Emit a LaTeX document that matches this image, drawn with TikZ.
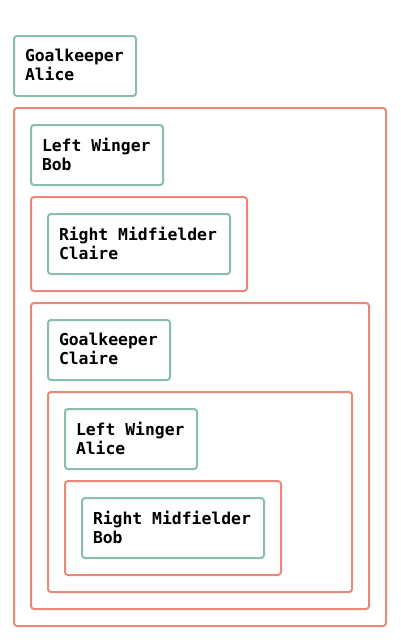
\documentclass[tikz,border=0pt]{standalone}
\usepackage{fontspec}
\setmonofont{DejaVu Sans Mono}
\definecolor{gbox}{HTML}{88BFA6}
\definecolor{rbox}{HTML}{E8877A}
\newcommand{\itemfont}{\ttfamily\bfseries\fontsize{16.4}{19}\selectfont}
\newcommand{\msp}{\hspace*{0.602em}}
\newcommand{\lowfix}{\rule[-1.6pt]{0pt}{0pt}}
\begin{document}
\begin{tikzpicture}[x=1pt,y=1pt,
  item/.style={draw=gbox, line width=2pt, rounded corners=3pt, fill=white, anchor=north west,
    minimum height=60pt, inner xsep=11pt, inner ysep=0pt, outer sep=0pt, align=left,
    font=\itemfont},
  group/.style={draw=rbox, line width=2pt, rounded corners=3pt, anchor=north west, inner sep=0pt, outer sep=0pt}]
\useasboundingbox (0,0) rectangle (400,-640);
% red groups
\node[group, minimum width=372pt, minimum height=518pt] (g1) at (14,-108) {};
\node[group, minimum width=216pt, minimum height=94pt] (g2) at (31,-197) {};
\node[group, minimum width=338pt, minimum height=306pt] (g3) at (31,-303) {};
\node[group, minimum width=304pt, minimum height=200pt] (g4) at (48,-392) {};
\node[group, minimum width=216pt, minimum height=94pt] (g5) at (65,-481) {};
% green items
\node[item, text width=100pt] (a) at (14,-36) {Goalkeeper\\Alice\lowfix};
\node[item, text width=110pt] (b) at (31,-125) {Left\msp Winger\\Bob\lowfix};
\node[item, text width=160pt] (c) at (48,-214) {Right\msp Midfielder\\Claire\lowfix};
\node[item, text width=100pt] (d) at (48,-320) {Goalkeeper\\Claire\lowfix};
\node[item, text width=110pt] (e) at (65,-409) {Left\msp Winger\\Alice\lowfix};
\node[item, text width=160pt] (f) at (82,-498) {Right\msp Midfielder\\Bob\lowfix};
\end{tikzpicture}
\end{document}
